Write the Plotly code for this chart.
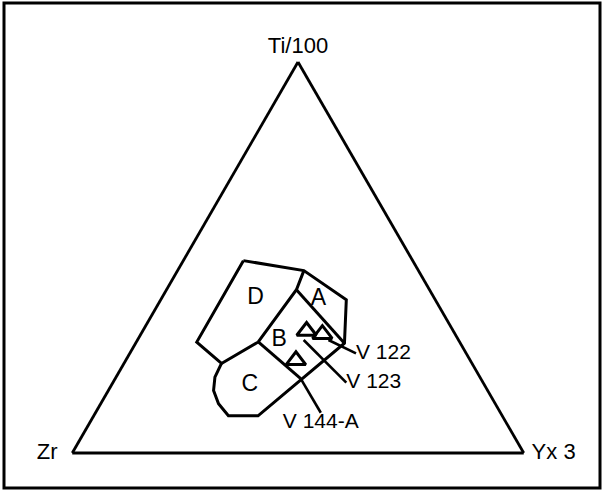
import plotly.graph_objects as go

# Ti-Zr-Y discrimination diagram, values as fractions (Ti/100, Zr, Yx3)

# outer outline of fields A-D (closed)
outline_ti = [0.492, 0.467, 0.392, 0.281, 0.095, 0.095, 0.126, 0.160, 0.194, 0.229, 0.284, 0.492]
outline_zr = [0.375, 0.254, 0.197, 0.257, 0.541, 0.606, 0.613, 0.607, 0.587, 0.555, 0.583, 0.375]
outline_y = [0.133, 0.280, 0.411, 0.463, 0.364, 0.298, 0.261, 0.233, 0.219, 0.216, 0.134, 0.133]

# inner field boundaries (None splits the segments)
inner_ti = [0.467, 0.418, 0.284, 0.229, None, 0.418, 0.281, None, 0.284, 0.190]
inner_zr = [0.254, 0.295, 0.446, 0.555, None, 0.295, 0.257, None, 0.446, 0.399]
inner_y = [0.280, 0.288, 0.270, 0.216, None, 0.288, 0.463, None, 0.270, 0.411]

field_names = ["D", "A", "B", "C"]
field_ti = [0.396, 0.392, 0.289, 0.173]
field_zr = [0.396, 0.259, 0.398, 0.521]
field_y = [0.208, 0.349, 0.314, 0.307]

# samples
sample_ti = [0.312, 0.304, 0.237]
sample_zr = [0.325, 0.294, 0.386]
sample_y = [0.363, 0.402, 0.377]

# leader lines to the sample labels
leader_ti = [0.289, 0.255, None, 0.289, 0.180, None, 0.190, 0.103]
leader_zr = [0.288, 0.244, None, 0.343, 0.303, None, 0.399, 0.398]
leader_y = [0.423, 0.501, None, 0.368, 0.517, None, 0.411, 0.499]

sample_names = ["V 122", "V 123", "V 144-A"]
label_ti = [0.255, 0.180, 0.103]
label_zr = [0.244, 0.303, 0.398]
label_y = [0.501, 0.517, 0.499]

corner_names = ["Ti/100", "Zr", "Yx 3"]
corner_ti = [1, 0, 0]
corner_zr = [0, 1, 0]
corner_y = [0, 0, 1]

FONT = "Liberation Sans"

fig = go.Figure()

fig.add_trace(go.Scatterternary(a=outline_ti, b=outline_zr, c=outline_y, mode="lines",
                                line=dict(color="black", width=3)))
fig.add_trace(go.Scatterternary(a=inner_ti, b=inner_zr, c=inner_y, mode="lines",
                                line=dict(color="black", width=3)))
fig.add_trace(go.Scatterternary(a=leader_ti, b=leader_zr, c=leader_y, mode="lines",
                                line=dict(color="black", width=2.6)))
fig.add_trace(go.Scatterternary(a=sample_ti, b=sample_zr, c=sample_y, mode="markers",
                                marker=dict(symbol="triangle-up-open", size=17,
                                            color="black", line=dict(width=3))))
fig.add_trace(go.Scatterternary(a=field_ti, b=field_zr, c=field_y, mode="text",
                                text=field_names, textposition="middle center",
                                textfont=dict(family=FONT, size=23, color="black")))
fig.add_trace(go.Scatterternary(a=label_ti, b=label_zr, c=label_y, mode="text",
                                text=sample_names,
                                textposition=["middle right", "middle right", "bottom center"],
                                textfont=dict(family=FONT, size=21, color="black")))
# corner labels, invisible markers push the text off the vertices
fig.add_trace(go.Scatterternary(a=corner_ti, b=corner_zr, c=corner_y, mode="markers+text",
                                text=corner_names, cliponaxis=False,
                                textposition=["top center", "middle left", "middle right"],
                                marker=dict(size=[4, 22, 11], opacity=0),
                                textfont=dict(family=FONT, size=22, color="black")))

axis = dict(showline=True, linecolor="black", linewidth=2.8, showgrid=False,
            showticklabels=False, ticks="", title=dict(text=""))

fig.update_layout(
    width=604, height=494,
    margin=dict(l=0, r=0, t=0, b=0),
    paper_bgcolor="white",
    showlegend=False,
    ternary=dict(
        sum=1,
        bgcolor="white",
        domain=dict(x=[72 / 604, 524 / 604], y=[1 - 453 / 494, 1 - 62 / 494]),
        aaxis=axis, baxis=axis, caxis=axis,
    ),
    shapes=[dict(type="rect", xref="paper", yref="paper",
                 x0=4 / 604, x1=600 / 604, y0=1 - 488 / 494, y1=1 - 3 / 494,
                 line=dict(color="black", width=3))],
)

fig.write_html("out.html", config={"displayModeBar": False},
               post_script="document.body.style.margin='0';")
